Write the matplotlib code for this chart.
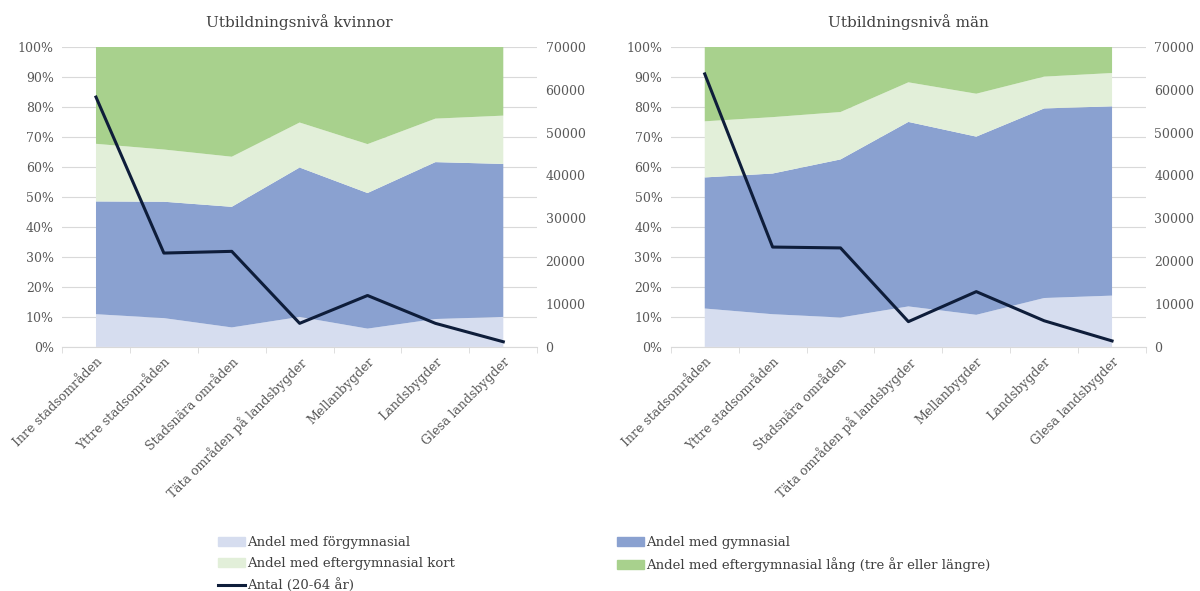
import matplotlib
matplotlib.use("Agg")
import matplotlib.pyplot as plt
import matplotlib.patches as mpatches
from matplotlib.lines import Line2D
from matplotlib.ticker import FuncFormatter, FixedLocator

plt.rcParams["font.family"] = ["DejaVu Serif"]

categories = [
    "Inre stadsområden", "Yttre stadsområden", "Stadsnära områden",
    "Täta områden på landsbygder", "Mellanbygder", "Landsbygder",
    "Glesa landsbygder",
]

# Andelar i procent per kategori
kv_forgymn = [10.9, 9.6, 6.5, 10.0, 6.1, 9.3, 10.0]
kv_gymn = [37.6, 38.8, 40.2, 49.8, 45.2, 52.3, 51.0]
kv_kort = [19.2, 17.4, 16.7, 15.0, 16.3, 14.5, 16.1]
kv_lang = [32.3, 34.2, 36.6, 25.2, 32.4, 23.9, 22.9]
kv_antal = [58300, 21900, 22300, 5500, 12000, 5500, 1200]

man_forgymn = [12.8, 10.9, 9.8, 13.5, 10.7, 16.3, 17.1]
man_gymn = [43.7, 46.9, 52.7, 61.5, 59.4, 63.2, 63.1]
man_kort = [18.7, 18.8, 15.8, 13.2, 14.3, 10.6, 11.1]
man_lang = [24.8, 23.4, 21.7, 11.8, 15.6, 9.9, 8.7]
man_antal = [63700, 23300, 23100, 5900, 12900, 6100, 1400]

titles = ["Utbildningsnivå kvinnor", "Utbildningsnivå män"]
labels = [
    "Andel med förgymnasial", "Andel med gymnasial",
    "Andel med eftergymnasial kort",
    "Andel med eftergymnasial lång (tre år eller längre)",
    "Antal (20-64 år)",
]
colours = ["#d6ddef", "#8aa1d0", "#e2efd9", "#a8d18d"]
line_colour = "#0e1d3a"
text_colour = "#595959"

fig = plt.figure(figsize=(12, 5.91), dpi=100)
panels = [
    (fig.add_axes([0.0517, 0.413, 0.396, 0.5076]),
     [kv_forgymn, kv_gymn, kv_kort, kv_lang], kv_antal),
    (fig.add_axes([0.559, 0.413, 0.396, 0.5076]),
     [man_forgymn, man_gymn, man_kort, man_lang], man_antal),
]

x = list(range(len(categories)))
for (ax, shares, antal), title in zip(panels, titles):
    ax.stackplot(x, *shares, colors=colours, zorder=2)
    ax.set_xlim(-0.5, len(categories) - 0.5)
    ax.set_ylim(0, 100)
    ax.set_yticks(range(0, 101, 10))
    ax.yaxis.set_major_formatter(FuncFormatter(lambda v, p: f"{v:.0f}%"))
    ax.grid(axis="y", color="#d9d9d9", lw=0.8, zorder=0)
    ax.set_axisbelow(True)
    for s in ["top", "right", "left"]:
        ax.spines[s].set_visible(False)
    ax.spines["bottom"].set_color("#d9d9d9")
    ax.spines["bottom"].set_zorder(5)
    ax.tick_params(axis="y", length=0, labelsize=9, colors=text_colour, pad=6)
    ax.set_xticks(x)
    ax.set_xticklabels(categories, rotation=45, ha="right",
                       rotation_mode="anchor", fontsize=9, color=text_colour)
    ax.tick_params(axis="x", which="major", length=0, pad=6)
    ax.xaxis.set_minor_locator(FixedLocator([i - 0.5 for i in range(len(categories) + 1)]))
    ax.tick_params(axis="x", which="minor", length=4, color="#d9d9d9")
    ax.set_title(title, fontsize=11, color="#404040", pad=14)

    ax2 = ax.twinx()
    ax2.plot(x, antal, color=line_colour, lw=2.2, zorder=3)
    ax2.set_ylim(0, 70000)
    ax2.set_yticks(range(0, 70001, 10000))
    for s in ax2.spines.values():
        s.set_visible(False)
    ax2.tick_params(axis="y", length=0, labelsize=9, colors=text_colour, pad=6)

handles = [
    mpatches.Patch(color=colours[0], label=labels[0]),
    mpatches.Patch(color=colours[2], label=labels[2]),
    Line2D([0], [0], color=line_colour, lw=2.2, label=labels[4]),
    mpatches.Patch(color=colours[1], label=labels[1]),
    mpatches.Patch(color=colours[3], label=labels[3]),
]
fig.legend(handles=handles, ncol=2, loc="lower left",
           bbox_to_anchor=(0.172, -0.022), frameon=False, fontsize=9.5,
           handlelength=2.0, handletextpad=0.2, columnspacing=12.3,
           labelspacing=0.62, labelcolor="#404040")

fig.savefig("out.png", dpi=100)
